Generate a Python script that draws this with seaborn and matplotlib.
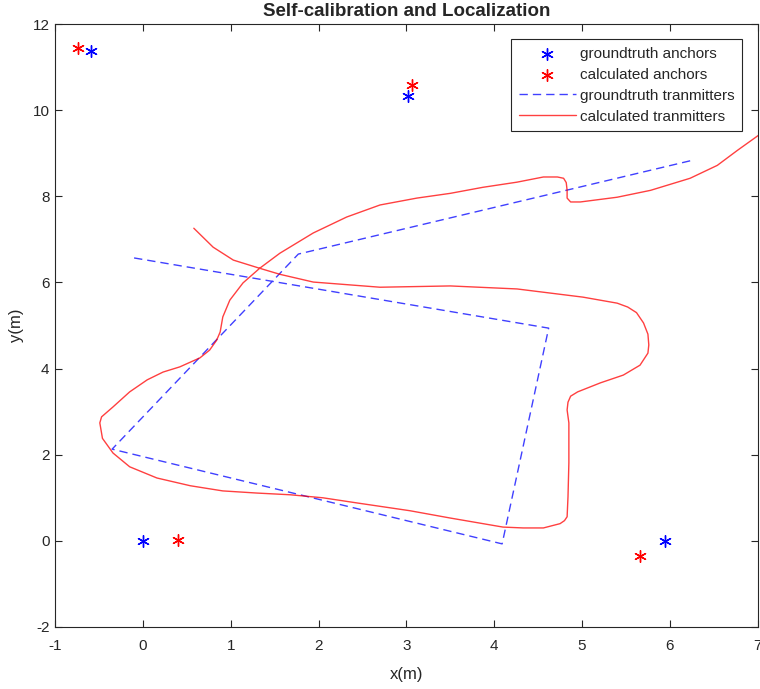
"""Self-calibration and Localization 图复现"""
import numpy as np
import pandas as pd
import matplotlib
matplotlib.use('Agg')
import matplotlib.pyplot as plt
import seaborn as sns

# 锚点（真值 / 计算值）
gt_anchor_x = [0.0, 5.94, 3.02, -0.59]
gt_anchor_y = [0.0, 0.0, 10.32, 11.37]
calc_anchor_x = [0.40, 5.66, 3.06, -0.74]
calc_anchor_y = [0.02, -0.35, 10.58, 11.44]

# 发射机轨迹（真值，折线）
gt_tx_x = [-0.10, 4.62, 4.09, -0.35, 1.77, 6.26]
gt_tx_y = [6.57, 4.94, -0.07, 2.13, 6.66, 8.84]

# 发射机轨迹（计算值）
calc_tx_x = [0.58, 0.80, 1.03, 1.33, 1.56, 1.94, 2.70, 3.50, 4.26, 5.01, 5.40, 5.52, 5.62,
             5.70, 5.75, 5.76, 5.75, 5.66, 5.47, 5.21, 4.95, 4.87, 4.84, 4.83, 4.85, 4.85,
             4.84, 4.83, 4.80, 4.75, 4.56, 4.33, 4.10, 3.50, 3.04, 2.44, 2.05, 1.68,
             1.30, 0.91, 0.54, 0.16, -0.15, -0.34, -0.46, -0.49, -0.47, -0.34, -0.15,
             0.05, 0.23, 0.42, 0.65, 0.76, 0.84, 0.88, 0.91, 0.99, 1.14, 1.33, 1.56,
             1.94, 2.32, 2.70, 3.12, 3.50, 3.87, 4.26, 4.56, 4.72, 4.79, 4.82, 4.83,
             4.83, 4.87, 4.98, 5.40, 5.78, 6.23, 6.54, 6.77, 7.01]
calc_tx_y = [7.26, 6.82, 6.52, 6.33, 6.19, 6.01, 5.89, 5.92, 5.85, 5.66, 5.52, 5.43, 5.30,
             5.06, 4.80, 4.55, 4.36, 4.08, 3.85, 3.67, 3.46, 3.36, 3.22, 3.04, 2.74, 1.81,
             1.02, 0.56, 0.47, 0.40, 0.30, 0.30, 0.32, 0.53, 0.70, 0.88, 1.00, 1.07,
             1.11, 1.16, 1.28, 1.46, 1.72, 2.04, 2.38, 2.74, 2.88, 3.11, 3.46,
             3.74, 3.92, 4.04, 4.25, 4.43, 4.66, 4.85, 5.20, 5.59, 5.99, 6.33, 6.68,
             7.15, 7.52, 7.80, 7.96, 8.07, 8.21, 8.33, 8.45, 8.45, 8.42, 8.32, 8.14,
             7.96, 7.87, 7.87, 7.98, 8.14, 8.42, 8.72, 9.07, 9.42]

sns.set_style('ticks')
plt.rcParams['font.family'] = ['Liberation Sans', 'DejaVu Sans']
plt.rcParams['axes.unicode_minus'] = False

fig = plt.figure(figsize=(7.6, 6.89), dpi=100)
ax = fig.add_axes([0.0724, 0.090, 0.9246, 0.875])

star = (6, 2, 0)
sns.scatterplot(x=gt_anchor_x, y=gt_anchor_y, ax=ax, marker=star, s=70,
                color='blue', edgecolor='blue', linewidth=1.0,
                label='groundtruth anchors')
sns.scatterplot(x=calc_anchor_x, y=calc_anchor_y, ax=ax, marker=star, s=70,
                color='red', edgecolor='red', linewidth=1.0,
                label='calculated anchors')
sns.lineplot(x=gt_tx_x, y=gt_tx_y, ax=ax, sort=False, estimator=None,
             color='blue', linewidth=1.0, dashes=False, alpha=0.75,
             label='groundtruth tranmitters')
ax.lines[-1].set_dashes((6, 3.6))
sns.lineplot(x=calc_tx_x, y=calc_tx_y, ax=ax, sort=False, estimator=None,
             color='red', linewidth=1.0, alpha=0.75,
             label='calculated tranmitters')

ax.set_xlim(-1, 7)
ax.set_ylim(-2, 12)
ax.set_xticks(range(-1, 8))
ax.set_yticks(range(-2, 13, 2))
ax.tick_params(direction='in', top=True, right=True, length=5, width=0.8,
               labelsize=11, colors='#262626', labelcolor='#262626')
ax.tick_params(axis='x', pad=8.5)
ax.tick_params(axis='y', pad=4)
for sp in ax.spines.values():
    sp.set_visible(True)
    sp.set_color('#262626')
    sp.set_linewidth(0.8)

ax.set_xlabel('x(m)', fontsize=12, color='#262626', labelpad=10)
ax.set_ylabel('y(m)', fontsize=12, color='#262626', labelpad=6)
ax.set_title('Self-calibration and Localization', fontsize=13.5,
             fontweight='bold', pad=6)

leg = ax.legend(loc='upper right', fontsize=11, frameon=True, fancybox=False,
                edgecolor='#262626', framealpha=1, borderaxespad=1.0,
                handlelength=3.7, handletextpad=0.3, labelspacing=0.45,
                borderpad=0.5)
leg.get_frame().set_linewidth(0.8)

fig.savefig('out.png', dpi=100)
